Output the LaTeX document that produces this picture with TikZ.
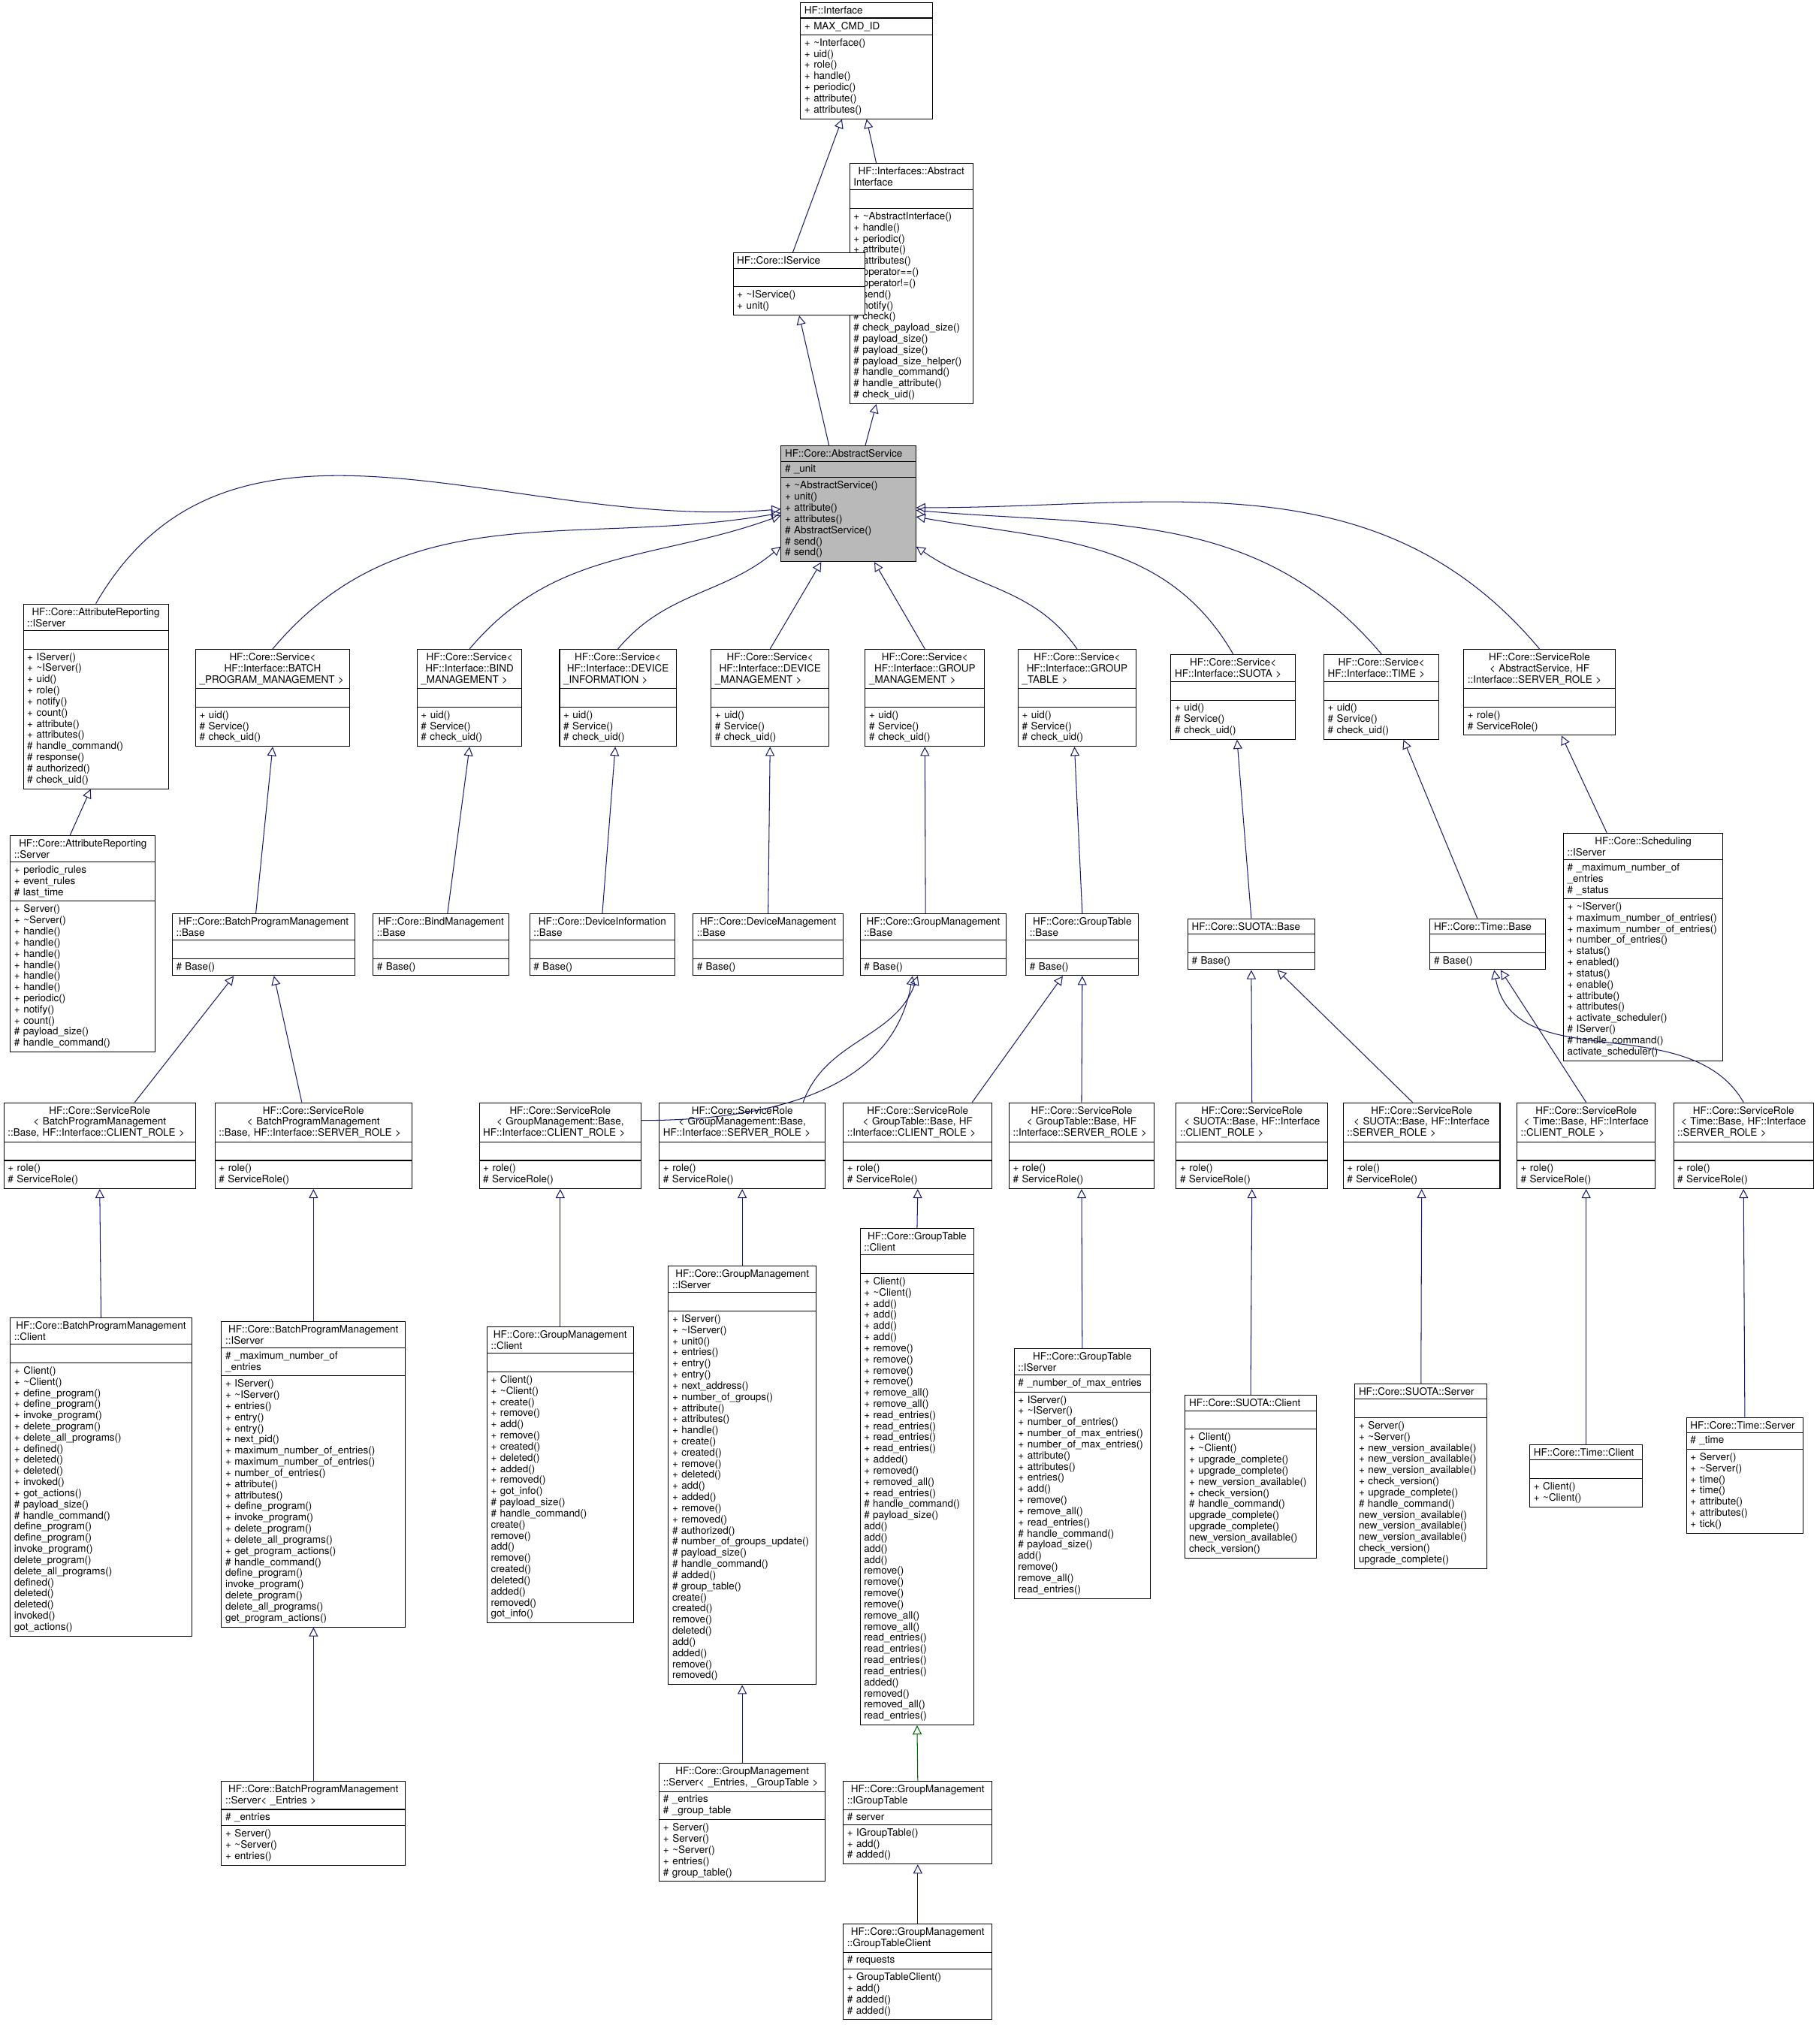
\documentclass[tikz,border=0pt]{standalone}
\usepackage{fontspec}
\setmainfont{TeX Gyre Heros}
\usetikzlibrary{shapes.multipart,arrows.meta}
\definecolor{edgeblue}{RGB}{25,25,112}
\definecolor{edgegreen}{RGB}{0,100,0}
\newcommand{\tld}{\textasciitilde}
\tikzset{
  cls/.style={draw=black, line width=0.6pt, rectangle split, rectangle split parts=3,
    text width=#1, align=left, anchor=north, inner xsep=3pt, inner ysep=2.6pt,
    font=\fontsize{7.8}{8.6}\selectfont, fill=white},
  inh/.style={draw=edgeblue, line width=0.6pt, -{Triangle[open,length=7pt,width=7pt]}},
  prot/.style={inh, draw=edgegreen}
}
\begin{document}
\begin{tikzpicture}[x=1pt,y=1pt]
\useasboundingbox (0,0) rectangle (1405,-1568);
% top of the hierarchy
\node[cls=96pt] (iface) at (669,-2) {\centering HF::Interface
  \nodepart{two}+ MAX\_CMD\_ID
  \nodepart{three}+ \tld Interface()\\+ uid()\\+ role()\\+ handle()\\+ periodic()\\+ attribute()\\+ attributes()};
\node[cls=89pt] (aiface) at (703.5,-126) {\centering HF::Interfaces::Abstract\\Interface
  \nodepart{two}\strut
  \nodepart{three}+ \tld AbstractInterface()\\+ handle()\\+ periodic()\\+ attribute()\\+ attributes()\\+ operator==()\\+ operator!=()\\\# send()\\\# notify()\\\# check()\\\# check\_payload\_size()\\\# payload\_size()\\\# payload\_size()\\\# payload\_size\_helper()\\\# handle\_command()\\\# handle\_attribute()\\\# check\_uid()};
\node[cls=96pt] (iservice) at (617,-195) {\centering HF::Core::IService
  \nodepart{two}\strut
  \nodepart{three}+ \tld IService()\\+ unit()};
\node[cls=98pt, fill=gray!55] (abs) at (655,-344) {\centering HF::Core::AbstractService
  \nodepart{two}\# \_unit
  \nodepart{three}+ \tld AbstractService()\\+ unit()\\+ attribute()\\+ attributes()\\\# AbstractService()\\\# send()\\\# send()};
% services
\node[cls=106pt] (attrep) at (74,-466) {\centering HF::Core::AttributeReporting\\::IServer
  \nodepart{two}\strut
  \nodepart{three}+ IServer()\\+ \tld IServer()\\+ uid()\\+ role()\\+ notify()\\+ count()\\+ attribute()\\+ attributes()\\\# handle\_command()\\\# response()\\\# authorized()\\\# check\_uid()};
\node[cls=113pt] (batch) at (210.5,-501) {\centering HF::Core::Service\textless\\HF::Interface::BATCH\\\_PROGRAM\_MANAGEMENT \textgreater
  \nodepart{two}\strut
  \nodepart{three}+ uid()\\\# Service()\\\# check\_uid()};
\node[cls=75pt] (bind) at (362.5,-501) {\centering HF::Core::Service\textless\\HF::Interface::BIND\\\_MANAGEMENT \textgreater
  \nodepart{two}\strut
  \nodepart{three}+ uid()\\\# Service()\\\# check\_uid()};
\node[cls=84pt] (devinfo) at (477,-501) {\centering HF::Core::Service\textless\\HF::Interface::DEVICE\\\_INFORMATION \textgreater
  \nodepart{two}\strut
  \nodepart{three}+ uid()\\\# Service()\\\# check\_uid()};
\node[cls=85pt] (devmgmt) at (594.5,-501) {\centering HF::Core::Service\textless\\HF::Interface::DEVICE\\\_MANAGEMENT \textgreater
  \nodepart{two}\strut
  \nodepart{three}+ uid()\\\# Service()\\\# check\_uid()};
\node[cls=86pt] (grpmgmt) at (714,-501) {\centering HF::Core::Service\textless\\HF::Interface::GROUP\\\_MANAGEMENT \textgreater
  \nodepart{two}\strut
  \nodepart{three}+ uid()\\\# Service()\\\# check\_uid()};
\node[cls=85pt] (grptable) at (831.5,-501) {\centering HF::Core::Service\textless\\HF::Interface::GROUP\\\_TABLE \textgreater
  \nodepart{two}\strut
  \nodepart{three}+ uid()\\\# Service()\\\# check\_uid()};
\node[cls=90pt] (suota) at (952,-505) {\centering HF::Core::Service\textless\\HF::Interface::SUOTA \textgreater
  \nodepart{two}\strut
  \nodepart{three}+ uid()\\\# Service()\\\# check\_uid()};
\node[cls=83pt] (time) at (1066.5,-505) {\centering HF::Core::Service\textless\\HF::Interface::TIME \textgreater
  \nodepart{two}\strut
  \nodepart{three}+ uid()\\\# Service()\\\# check\_uid()};
\node[cls=111pt] (srole) at (1188.5,-501) {\centering HF::Core::ServiceRole\\\textless{} AbstractService, HF\\::Interface::SERVER\_ROLE \textgreater
  \nodepart{two}\strut
  \nodepart{three}+ role()\\\# ServiceRole()};
% bases
\node[cls=106pt] (attrserv) at (64,-645) {\centering HF::Core::AttributeReporting\\::Server
  \nodepart{two}+ periodic\_rules\\+ event\_rules\\\# last\_time
  \nodepart{three}+ Server()\\+ \tld Server()\\+ handle()\\+ handle()\\+ handle()\\+ handle()\\+ handle()\\+ handle()\\+ periodic()\\+ notify()\\+ count()\\\# payload\_size()\\\# handle\_command()};
\node[cls=135pt] (batchbase) at (203.5,-705) {\centering HF::Core::BatchProgramManagement\\::Base
  \nodepart{two}\strut \nodepart{three}\# Base()};
\node[cls=99pt] (bindbase) at (340.5,-705) {\centering HF::Core::BindManagement\\::Base
  \nodepart{two}\strut \nodepart{three}\# Base()};
\node[cls=106pt] (devinfobase) at (465,-705) {\centering HF::Core::DeviceInformation\\::Base
  \nodepart{two}\strut \nodepart{three}\# Base()};
\node[cls=110pt] (devmgmtbase) at (593,-705) {\centering HF::Core::DeviceManagement\\::Base
  \nodepart{two}\strut \nodepart{three}\# Base()};
\node[cls=107pt] (gmbase) at (720.5,-705) {\centering HF::Core::GroupManagement\\::Base
  \nodepart{two}\strut \nodepart{three}\# Base()};
\node[cls=81pt] (gtbase) at (835.5,-705) {\centering HF::Core::GroupTable\\::Base
  \nodepart{two}\strut \nodepart{three}\# Base()};
\node[cls=92pt] (suotabase) at (966,-709) {\centering HF::Core::SUOTA::Base
  \nodepart{two}\strut \nodepart{three}\# Base()};
\node[cls=83pt] (timebase) at (1148.5,-709) {\centering HF::Core::Time::Base
  \nodepart{two}\strut \nodepart{three}\# Base()};
\node[cls=117pt] (schedule) at (1268.5,-643) {\centering HF::Core::Scheduling\\::IServer
  \nodepart{two}\# \_maximum\_number\_of\\\_entries\\\# \_status
  \nodepart{three}+ \tld IServer()\\+ maximum\_number\_of\_entries()\\+ maximum\_number\_of\_entries()\\+ number\_of\_entries()\\+ status()\\+ enabled()\\+ status()\\+ enable()\\+ attribute()\\+ attributes()\\+ activate\_scheduler()\\\# IServer()\\\# handle\_command()\\* activate\_scheduler()};
% service roles
\node[cls=142pt] (bpmcr) at (77,-851) {\centering HF::Core::ServiceRole\\\textless{} BatchProgramManagement\\::Base, HF::Interface::CLIENT\_ROLE \textgreater
  \nodepart{two}\strut \nodepart{three}+ role()\\\# ServiceRole()};
\node[cls=146pt] (bpmsr) at (242,-851) {\centering HF::Core::ServiceRole\\\textless{} BatchProgramManagement\\::Base, HF::Interface::SERVER\_ROLE \textgreater
  \nodepart{two}\strut \nodepart{three}+ role()\\\# ServiceRole()};
\node[cls=119pt] (gmcr) at (432.5,-851) {\centering HF::Core::ServiceRole\\\textless{} GroupManagement::Base,\\HF::Interface::CLIENT\_ROLE \textgreater
  \nodepart{two}\strut \nodepart{three}+ role()\\\# ServiceRole()};
\node[cls=122pt] (gmsr) at (573,-851) {\centering HF::Core::ServiceRole\\\textless{} GroupManagement::Base,\\HF::Interface::SERVER\_ROLE \textgreater
  \nodepart{two}\strut \nodepart{three}+ role()\\\# ServiceRole()};
\node[cls=109pt] (gtcr) at (708.5,-851) {\centering HF::Core::ServiceRole\\\textless{} GroupTable::Base, HF\\::Interface::CLIENT\_ROLE \textgreater
  \nodepart{two}\strut \nodepart{three}+ role()\\\# ServiceRole()};
\node[cls=106pt] (gtsr) at (835,-851) {\centering HF::Core::ServiceRole\\\textless{} GroupTable::Base, HF\\::Interface::SERVER\_ROLE \textgreater
  \nodepart{two}\strut \nodepart{three}+ role()\\\# ServiceRole()};
\node[cls=111pt] (suotacr) at (966.5,-851) {\centering HF::Core::ServiceRole\\\textless{} SUOTA::Base, HF::Interface\\::CLIENT\_ROLE \textgreater
  \nodepart{two}\strut \nodepart{three}+ role()\\\# ServiceRole()};
\node[cls=115pt] (suotasr) at (1097.5,-851) {\centering HF::Core::ServiceRole\\\textless{} SUOTA::Base, HF::Interface\\::SERVER\_ROLE \textgreater
  \nodepart{two}\strut \nodepart{three}+ role()\\\# ServiceRole()};
\node[cls=101pt] (timecr) at (1224.5,-851) {\centering HF::Core::ServiceRole\\\textless{} Time::Base, HF::Interface\\::CLIENT\_ROLE \textgreater
  \nodepart{two}\strut \nodepart{three}+ role()\\\# ServiceRole()};
\node[cls=102pt] (timesr) at (1346,-851) {\centering HF::Core::ServiceRole\\\textless{} Time::Base, HF::Interface\\::SERVER\_ROLE \textgreater
  \nodepart{two}\strut \nodepart{three}+ role()\\\# ServiceRole()};
% clients and servers
\node[cls=134pt] (bpmclient) at (78,-1017) {\centering HF::Core::BatchProgramManagement\\::Client
  \nodepart{two}\strut
  \nodepart{three}+ Client()\\+ \tld Client()\\+ define\_program()\\+ define\_program()\\+ invoke\_program()\\+ delete\_program()\\+ delete\_all\_programs()\\+ defined()\\+ deleted()\\+ deleted()\\+ invoked()\\+ got\_actions()\\\# payload\_size()\\\# handle\_command()\\* define\_program()\\* define\_program()\\* invoke\_program()\\* delete\_program()\\* delete\_all\_programs()\\* defined()\\* deleted()\\* deleted()\\* invoked()\\* got\_actions()};
\node[cls=136pt] (bpmiserver) at (242,-1020) {\centering HF::Core::BatchProgramManagement\\::IServer
  \nodepart{two}\# \_maximum\_number\_of\\\_entries
  \nodepart{three}+ IServer()\\+ \tld IServer()\\+ entries()\\+ entry()\\+ entry()\\+ next\_pid()\\+ maximum\_number\_of\_entries()\\+ maximum\_number\_of\_entries()\\+ number\_of\_entries()\\+ attribute()\\+ attributes()\\+ define\_program()\\+ invoke\_program()\\+ delete\_program()\\+ delete\_all\_programs()\\+ get\_program\_actions()\\\# handle\_command()\\* define\_program()\\* invoke\_program()\\* delete\_program()\\* delete\_all\_programs()\\* get\_program\_actions()};
\node[cls=107pt] (gmclient) at (432.5,-1024) {\centering HF::Core::GroupManagement\\::Client
  \nodepart{two}\strut
  \nodepart{three}+ Client()\\+ \tld Client()\\+ create()\\+ remove()\\+ add()\\+ remove()\\+ created()\\+ deleted()\\+ added()\\+ removed()\\+ got\_info()\\\# payload\_size()\\\# handle\_command()\\* create()\\* remove()\\* add()\\* remove()\\* created()\\* deleted()\\* added()\\* removed()\\* got\_info()};
\node[cls=108pt] (gmiserver) at (573,-977) {\centering HF::Core::GroupManagement\\::IServer
  \nodepart{two}\strut
  \nodepart{three}+ IServer()\\+ \tld IServer()\\+ unit0()\\+ entries()\\+ entry()\\+ entry()\\+ next\_address()\\+ number\_of\_groups()\\+ attribute()\\+ attributes()\\+ handle()\\+ create()\\+ created()\\+ remove()\\+ deleted()\\+ add()\\+ added()\\+ remove()\\+ removed()\\\# authorized()\\\# number\_of\_groups\_update()\\\# payload\_size()\\\# handle\_command()\\\# added()\\\# group\_table()\\* create()\\* created()\\* remove()\\* deleted()\\* add()\\* added()\\* remove()\\* removed()};
\node[cls=82pt] (gtclient) at (708,-948) {\centering HF::Core::GroupTable\\::Client
  \nodepart{two}\strut
  \nodepart{three}+ Client()\\+ \tld Client()\\+ add()\\+ add()\\+ add()\\+ add()\\+ remove()\\+ remove()\\+ remove()\\+ remove()\\+ remove\_all()\\+ remove\_all()\\+ read\_entries()\\+ read\_entries()\\+ read\_entries()\\+ read\_entries()\\+ added()\\+ removed()\\+ removed\_all()\\+ read\_entries()\\\# handle\_command()\\\# payload\_size()\\* add()\\* add()\\* add()\\* add()\\* remove()\\* remove()\\* remove()\\* remove()\\* remove\_all()\\* remove\_all()\\* read\_entries()\\* read\_entries()\\* read\_entries()\\* read\_entries()\\* added()\\* removed()\\* removed\_all()\\* read\_entries()};
\node[cls=99pt] (gtiserver) at (835.5,-1041) {\centering HF::Core::GroupTable\\::IServer
  \nodepart{two}\# \_number\_of\_max\_entries
  \nodepart{three}+ IServer()\\+ \tld IServer()\\+ number\_of\_entries()\\+ number\_of\_max\_entries()\\+ number\_of\_max\_entries()\\+ attribute()\\+ attributes()\\+ entries()\\+ add()\\+ remove()\\+ remove\_all()\\+ read\_entries()\\\# handle\_command()\\\# payload\_size()\\* add()\\* remove()\\* remove\_all()\\* read\_entries()};
\node[cls=95pt] (suotaclient) at (965.5,-1077) {\centering HF::Core::SUOTA::Client
  \nodepart{two}\strut
  \nodepart{three}+ Client()\\+ \tld Client()\\+ upgrade\_complete()\\+ upgrade\_complete()\\+ new\_version\_available()\\+ check\_version()\\\# handle\_command()\\* upgrade\_complete()\\* upgrade\_complete()\\* new\_version\_available()\\* check\_version()};
\node[cls=96pt] (suotaserver) at (1097,-1068) {\centering HF::Core::SUOTA::Server
  \nodepart{two}\strut
  \nodepart{three}+ Server()\\+ \tld Server()\\+ new\_version\_available()\\+ new\_version\_available()\\+ new\_version\_available()\\+ check\_version()\\+ upgrade\_complete()\\\# handle\_command()\\* new\_version\_available()\\* new\_version\_available()\\* new\_version\_available()\\* check\_version()\\* upgrade\_complete()};
\node[cls=81pt] (timeclient) at (1224.5,-1115) {\centering HF::Core::Time::Client
  \nodepart{two}\strut
  \nodepart{three}+ Client()\\+ \tld Client()};
\node[cls=84pt] (timeserver) at (1347,-1094) {\centering HF::Core::Time::Server
  \nodepart{two}\# \_time
  \nodepart{three}+ Server()\\+ \tld Server()\\+ time()\\+ time()\\+ attribute()\\+ attributes()\\+ tick()};
% bottom row
\node[cls=136pt] (bpmserver) at (242,-1375) {\centering HF::Core::BatchProgramManagement\\::Server\textless{} \_Entries \textgreater
  \nodepart{two}\# \_entries
  \nodepart{three}+ Server()\\+ \tld Server()\\+ entries()};
\node[cls=122pt] (gmserver) at (573,-1361) {\centering HF::Core::GroupManagement\\::Server\textless{} \_Entries, \_GroupTable \textgreater
  \nodepart{two}\# \_entries\\\# \_group\_table
  \nodepart{three}+ Server()\\+ Server()\\+ \tld Server()\\+ entries()\\\# group\_table()};
\node[cls=109pt] (igt) at (708.5,-1375) {\centering HF::Core::GroupManagement\\::IGroupTable
  \nodepart{two}\# server
  \nodepart{three}+ IGroupTable()\\+ add()\\\# added()};
\node[cls=109pt] (gtc) at (708.5,-1485) {\centering HF::Core::GroupManagement\\::GroupTableClient
  \nodepart{two}\# requests
  \nodepart{three}+ GroupTableClient()\\+ add()\\\# added()\\\# added()};
% inheritance
\draw[inh] ([xshift=-5pt]iservice.north) -- ([xshift=-19pt]iface.south);
\draw[inh] ([xshift=-27pt]aiface.north) -- (iface.south);
\draw[inh] ([xshift=-15pt]abs.north) -- (iservice.south);
\draw[inh] ([xshift=13pt]abs.north) -- ([xshift=-27pt]aiface.south);
\draw[inh] (attrep.north) to[out=60,in=185] ([yshift=-4pt]abs.west);
\draw[inh] (batch.north) to[out=50,in=190] ([yshift=-7pt]abs.west);
\draw[inh] (bind.north) to[out=50,in=200] ([yshift=-9pt]abs.west);
\draw[inh] (devinfo.north) to[out=50,in=220] ([yshift=-33pt]abs.west);
\draw[inh] (devmgmt.north) -- ([xshift=-21pt]abs.south);
\draw[inh] (grpmgmt.north) -- ([xshift=20pt]abs.south);
\draw[inh] (grptable.north) to[out=125,in=-35] ([yshift=-33pt]abs.east);
\draw[inh] (suota.north) to[out=120,in=-10] ([yshift=-10pt]abs.east);
\draw[inh] (time.north) to[out=130,in=-5] ([yshift=-5pt]abs.east);
\draw[inh] (srole.north) to[out=130,in=0] ([yshift=-3pt]abs.east);
\draw[inh] ([xshift=-10pt]attrserv.north) -- ([xshift=-4pt]attrep.south);
\draw[inh] ([xshift=-6pt]batchbase.north) -- (batch.south);
\draw[inh] ([xshift=5pt]bindbase.north) -- (bind.south);
\draw[inh] (devinfobase.north) -- ([xshift=-2pt]devinfo.south);
\draw[inh] (devmgmtbase.north) -- (devmgmt.south);
\draw[inh] ([xshift=-6pt]gmbase.north) -- (grpmgmt.south);
\draw[inh] (gtbase.north) -- ([xshift=-2pt]grptable.south);
\draw[inh] (suotabase.north) -- ([xshift=3pt]suota.south);
\draw[inh] ([xshift=-8pt]timebase.north) -- ([xshift=17pt]time.south);
\draw[inh] ([xshift=-28pt]schedule.north) -- ([xshift=17pt]srole.south);
\draw[inh] ([xshift=27pt]bpmcr.north) -- ([xshift=-23pt]batchbase.south);
\draw[inh] ([xshift=-9pt]bpmsr.north) -- ([xshift=8pt]batchbase.south);
\draw[inh] ([yshift=-14pt]gmcr.north east) to[out=0,in=-100] ([xshift=-16pt]gmbase.south);
\draw[inh] ([xshift=47pt]gmsr.north) to[out=70,in=-110] ([xshift=-12pt]gmbase.south);
\draw[inh] ([xshift=42pt]gtcr.north) -- ([xshift=-15pt]gtbase.south);
\draw[inh] (gtsr.north) -- (gtbase.south);
\draw[inh] (suotacr.north) -- (suotabase.south);
\draw[inh] ([xshift=-7pt]suotasr.north) -- ([xshift=20pt]suotabase.south);
\draw[inh] (timecr.north) -- ([xshift=10pt]timebase.south);
\draw[inh] (timesr.north) to[out=120,in=-80] ([xshift=5pt]timebase.south);
\draw[inh] (bpmclient.north) -- (bpmcr.south);
\draw[inh] (bpmiserver.north) -- (bpmsr.south);
\draw[inh] (gmclient.north) -- (gmcr.south);
\draw[inh] (gmiserver.north) -- (gmsr.south);
\draw[inh] (gtclient.north) -- (gtcr.south);
\draw[inh] (gtiserver.north) -- (gtsr.south);
\draw[inh] (suotaclient.north) -- (suotacr.south);
\draw[inh] (suotaserver.north) -- (suotasr.south);
\draw[inh] (timeclient.north) -- (timecr.south);
\draw[inh] (timeserver.north) -- (timesr.south);
\draw[inh] (bpmserver.north) -- (bpmiserver.south);
\draw[inh] (gmserver.north) -- (gmiserver.south);
\draw[prot] (igt.north) -- (gtclient.south);
\draw[inh] (gtc.north) -- (igt.south);
\end{tikzpicture}
\end{document}
